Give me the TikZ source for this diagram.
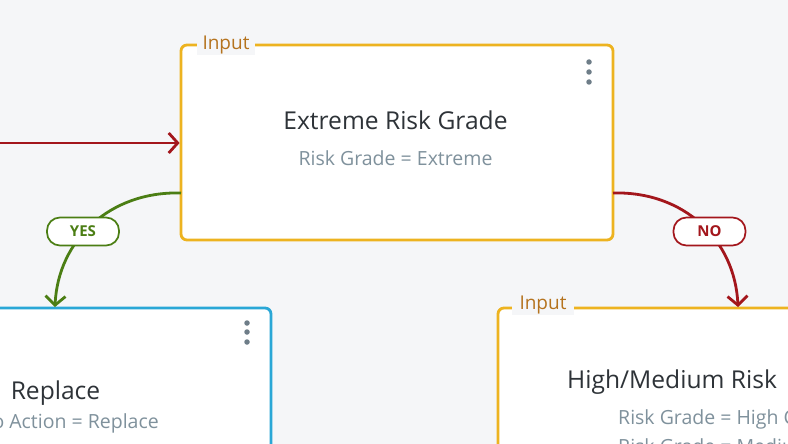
\documentclass[tikz,border=0pt]{standalone}
\usepackage{fontspec}
\setmainfont{Open Sans}
\usetikzlibrary{arrows.meta,calc}
\definecolor{bg}{HTML}{F5F6F8}
\definecolor{ybord}{HTML}{EDB320}
\definecolor{bbord}{HTML}{2AA7D6}
\definecolor{lbl}{HTML}{B5731E}
\definecolor{ttl}{HTML}{2E3338}
\definecolor{subc}{HTML}{7F919C}
\definecolor{dotc}{HTML}{6E7D88}
\definecolor{gr}{HTML}{4B7E14}
\definecolor{rd}{HTML}{A3161C}
\tikzset{
  card/.style={draw, line width=2.8pt, rounded corners=6pt, fill=white, inner sep=0pt},
  tag/.style={fill=bg, text=lbl, font=\fontsize{19}{22}\selectfont, inner xsep=6pt, inner ysep=1pt},
  ttltext/.style={text=ttl, font=\fontsize{24.6}{29}\selectfont, inner sep=0pt},
  subtext/.style={text=subc, font=\fontsize{19.5}{23}\selectfont, inner sep=0pt},
  menudot/.style={circle, fill=dotc, inner sep=0pt, minimum size=5.5pt},
  flow/.style={line width=2.8pt, -{Straight Barb[length=9pt,width=20pt,line width=2.8pt]}},
  pill/.style={draw, line width=1.7pt, rounded corners=13pt, fill=white, minimum width=72pt, minimum height=28pt, inner sep=0pt, font=\bfseries\fontsize{15}{17}\selectfont},
}
\begin{document}
\begin{tikzpicture}[x=1pt,y=-1pt]
\useasboundingbox (0,0) rectangle (788,444);
\clip (0,0) rectangle (788,444);
\fill[bg] (0,0) rectangle (788,444);

% main card
\node[card, draw=ybord, minimum width=432pt, minimum height=195pt] (main) at (397,142.5) {};
\node[tag] (mainlbl) at (226,45) {Input};
\node[ttltext] (maint) at (395.5,120) {Extreme Risk Grade};
\node[subtext] (mains) at (395.5,158) {Risk Grade = Extreme};
\node[menudot] (md1) at (589,62) {};
\node[menudot] (md2) at (589,72) {};
\node[menudot] (md3) at (589,82) {};

% bottom-left card
\node[card, draw=bbord, minimum width=431pt, minimum height=252pt] (rep) at (55.5,434) {};
\node[ttltext] (rept) at (55.5,393) {Replace};
\node[subtext, anchor=east] (reps) at (159,423) {o Action = Replace};
\node[menudot] (rd1) at (247,323) {};
\node[menudot] (rd2) at (247,332) {};
\node[menudot] (rd3) at (247,342) {};

% bottom-right card
\node[card, draw=ybord, minimum width=432pt, minimum height=252pt] (hm) at (714,434) {};
\node[tag, inner xsep=8pt] (hmlbl) at (543,305) {Input};
\node[ttltext, anchor=west] (hmt) at (567,382) {High/Medium Risk};
\node[subtext, anchor=west] (hms1) at (618,419) {Risk Grade = High C};
\node[subtext, anchor=west] (hms2) at (618,446) {Risk Grade = Mediu};

% connectors
\coordinate (inl) at (0,143);
\coordinate (ys) at (181,193);
\coordinate (ye) at (55,307);
\coordinate (ns) at (613,193);
\coordinate (ne) at (738,307);
\draw[flow, rd] (inl) -- (inl -| main.west);
\draw[flow, gr] (ys) .. controls (110,191) and (58,240) .. (ye);
\draw[flow, rd] (ns) .. controls (684,191) and (735,240) .. (ne);
\node[pill, draw=gr, text=gr] (yes) at (83,231.5) {YES};
\node[pill, draw=rd, text=rd] (no) at (709.5,231.5) {NO};
\end{tikzpicture}
\end{document}
